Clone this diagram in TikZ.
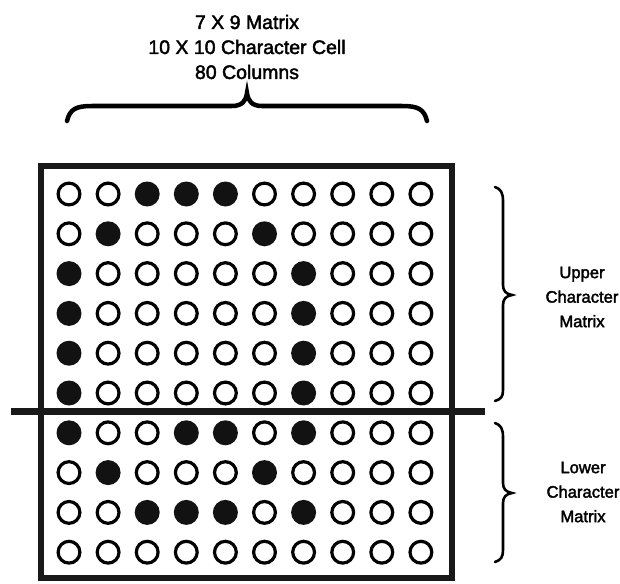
\documentclass[tikz,border=0pt]{standalone}
\usepackage{fontspec}
\setmainfont{Liberation Sans}[FakeBold=2.2]
\begin{document}
\begin{tikzpicture}[x=1pt,y=-1pt,
  dotoff/.style={circle,draw=black,line width=3.2pt,minimum size=21.8pt,inner sep=0pt},
  doton/.style={circle,fill=black!93,minimum size=25pt,inner sep=0pt},
  frame/.style={draw=black!90,line width=6pt,inner sep=0pt},
  divider/.style={draw=black!90,line width=7pt},
  bigbrace/.style={draw=black,line width=4.5pt,line cap=round},
  sidebrace/.style={draw=black,line width=2.6pt,line cap=round},
  toplabel/.style={align=center,font=\fontsize{19.5pt}{25pt}\selectfont},
  sidelabel/.style={align=center,font=\fontsize{16.6pt}{24.5pt}\selectfont}]
\useasboundingbox (0,0) rectangle (620,583);
% frame
\node[frame,minimum width=411pt,minimum height=412.5pt] (cell) at (246.5,371.75) {};
% divider
\coordinate (divL) at (11,411);
\coordinate (divR) at (485,411);
\draw[divider] (divL) -- (divR);
% dots
\foreach \r/\pat in {1/{0,0,1,1,1,0,0,0,0,0},2/{0,1,0,0,0,1,0,0,0,0},3/{1,0,0,0,0,0,1,0,0,0},4/{1,0,0,0,0,0,1,0,0,0},5/{1,0,0,0,0,0,1,0,0,0},6/{1,0,0,0,0,0,1,0,0,0},7/{1,0,0,1,1,0,1,0,0,0},8/{0,1,0,0,0,1,0,0,0,0},9/{0,0,1,1,1,0,1,0,0,0},10/{0,0,0,0,0,0,0,0,0,0}}{
  \foreach \bit [count=\c] in \pat {
    \pgfmathsetmacro\xx{69+(\c-1)*39.1}
    \pgfmathsetmacro\yy{194+(\r-1)*39.8}
    \ifnum\bit=1
      \node[doton] (d-\r-\c) at (\xx,\yy) {};
    \else
      \node[dotoff] (d-\r-\c) at (\xx,\yy) {};
    \fi
  }
}
% top text
\node[toplabel] (title) at (247,47) {7 X 9 Matrix\\10 X 10 Character Cell\\80 Columns};
% top brace
\draw[bigbrace] (67,121) .. controls (70,109) and (76,106) .. (92,106) -- (232,106)
  .. controls (242,106) and (246,101) .. (247,93)
  .. controls (248,101) and (252,106) .. (262,106) -- (402,106)
  .. controls (418,106) and (424,109) .. (427,121);
% upper side brace
\draw[sidebrace] (495,187) .. controls (501,189) and (503,193) .. (503,201) -- (503,285)
  .. controls (503,291) and (506,294) .. (512,295)
  .. controls (506,296) and (503,299) .. (503,305) -- (503,390)
  .. controls (503,397) and (501,399) .. (495,401);
% lower side brace
\draw[sidebrace] (495,423) .. controls (501,425) and (503,429) .. (503,437) -- (503,483)
  .. controls (503,489) and (506,492) .. (512,493)
  .. controls (506,494) and (503,497) .. (503,503) -- (503,550)
  .. controls (503,557) and (501,560) .. (495,562);
% labels
\node[sidelabel] (upper) at (582,297) {Upper\\Character\\Matrix};
\node[sidelabel] (lower) at (583,492) {Lower\\Character\\Matrix};
\end{tikzpicture}
\end{document}
